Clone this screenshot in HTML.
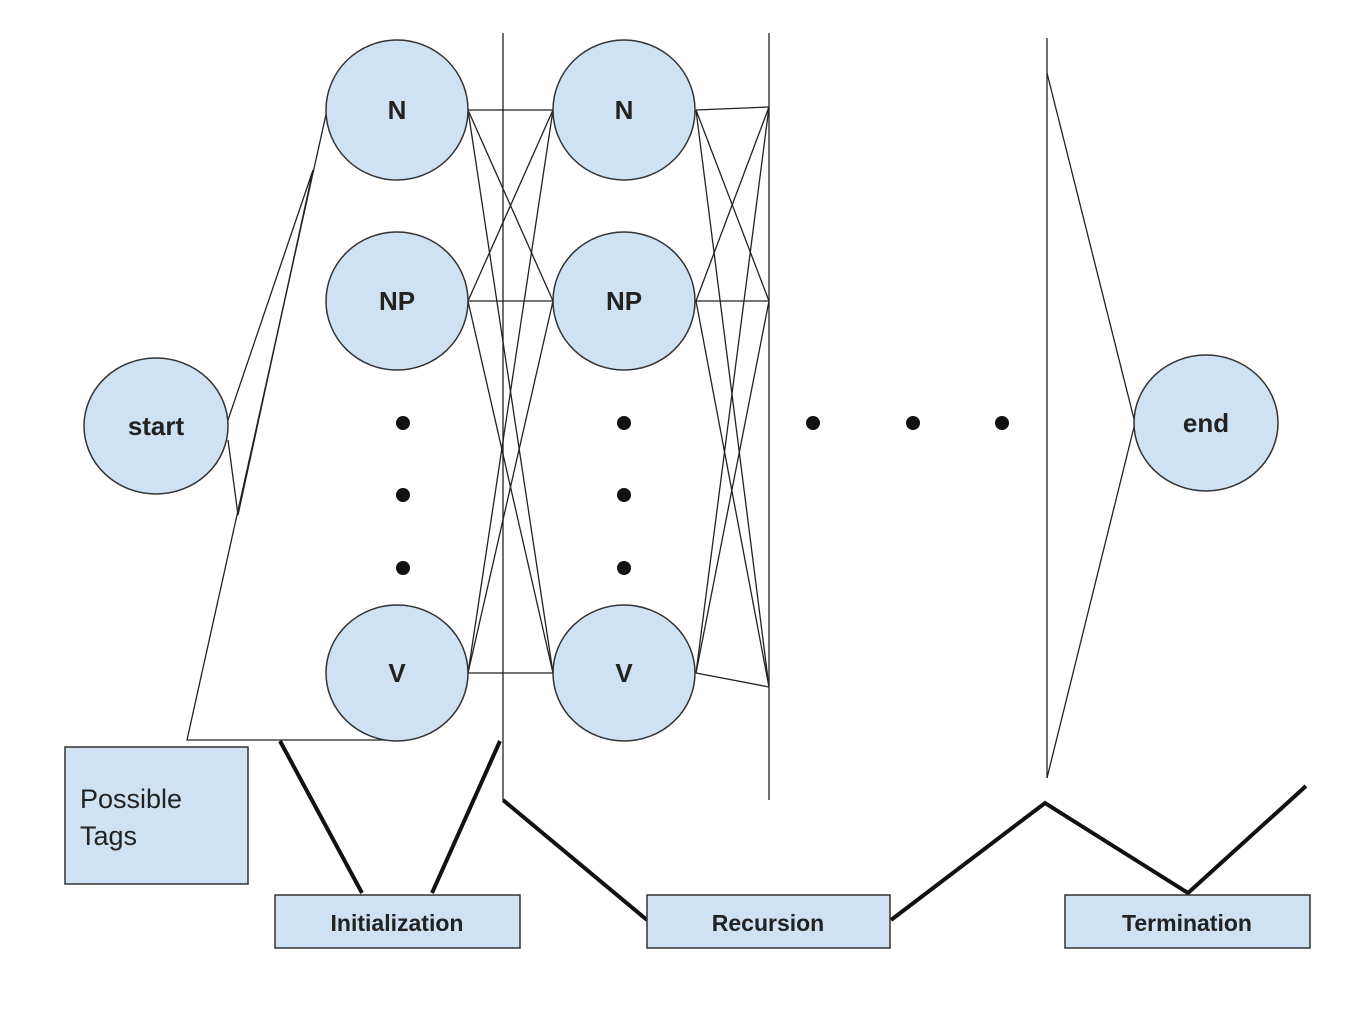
<!DOCTYPE html>
<html><head><meta charset="utf-8"><style>
html,body{margin:0;padding:0;background:#fff;width:1358px;height:1010px;overflow:hidden}
svg{display:block}
text{font-family:"Liberation Sans",sans-serif;fill:#222}
</style></head><body>
<svg width="1358" height="1010" viewBox="0 0 1358 1010">
<g stroke="#222" stroke-width="1.3" fill="none">
<line x1="503" y1="33" x2="503" y2="800"/>
<line x1="769" y1="33" x2="769" y2="800"/>
<line x1="1047" y1="38" x2="1047" y2="778"/>
<polyline points="327,110 187,740 393,740"/>
<polyline points="228,420 313,170 238,515 228,440"/>
<line x1="1047" y1="73" x2="1135" y2="423"/>
<line x1="1135" y1="423" x2="1047" y2="778"/>
<g id="c1"></g><g id="c2"></g>
</g>
<g id="nodes"></g>
<g fill="#111">
<circle cx="403" cy="423" r="7"/><circle cx="403" cy="495" r="7"/><circle cx="403" cy="568" r="7"/>
<circle cx="624" cy="423" r="7"/><circle cx="624" cy="495" r="7"/><circle cx="624" cy="568" r="7"/>
<circle cx="813" cy="423" r="7"/><circle cx="913" cy="423" r="7"/><circle cx="1002" cy="423" r="7"/>
</g>
<g stroke="#111" stroke-width="4" fill="none">
<line x1="280" y1="741" x2="362" y2="893"/>
<line x1="500" y1="741" x2="432" y2="893"/>
<polyline points="503,800 647,920"/>
<polyline points="891,920 1045,803 1188,893 1306,786"/>
</g>
<g>
<rect x="65" y="747" width="183" height="137" fill="#cfe2f3" stroke="#333" stroke-width="1.5"/>
<text x="80" y="808" font-size="27">Possible</text>
<text x="80" y="845" font-size="27">Tags</text>
</g>
<g>
<rect x="275" y="895" width="245" height="53" fill="#cfe2f3" stroke="#333" stroke-width="1.5"/>
<text x="397" y="931" font-size="23" font-weight="bold" text-anchor="middle">Initialization</text>
</g>
<g>
<rect x="647" y="895" width="243" height="53" fill="#cfe2f3" stroke="#333" stroke-width="1.5"/>
<text x="768" y="931" font-size="23" font-weight="bold" text-anchor="middle">Recursion</text>
</g>
<g>
<rect x="1065" y="895" width="245" height="53" fill="#cfe2f3" stroke="#333" stroke-width="1.5"/>
<text x="1187" y="931" font-size="23" font-weight="bold" text-anchor="middle">Termination</text>
</g>
</svg>
<script>
const NS="http://www.w3.org/2000/svg";
const rowY=[110,301,673];
const c1=document.getElementById('c1'),c2=document.getElementById('c2');
for(const a of rowY){for(const b of rowY){
 const l=document.createElementNS(NS,'line');
 l.setAttribute('x1',468);l.setAttribute('y1',a);l.setAttribute('x2',553);l.setAttribute('y2',b);
 
 
 c1.appendChild(l);
}}
const rightY=[107,301,687];
for(const a of rowY){for(const b of rightY){
 const l=document.createElementNS(NS,'line');
 l.setAttribute('x1',696);l.setAttribute('y1',a);l.setAttribute('x2',769);l.setAttribute('y2',b);
 
 
 c2.appendChild(l);
}}
const nodes=[["start",156,426,72,68],["N",397,110,71,70],["NP",397,301,71,69],["V",397,673,71,68],
["N",624,110,71,70],["NP",624,301,71,69],["V",624,673,71,68],["end",1206,423,72,68]];
const g=document.getElementById('nodes');
for(const [t,x,y,rx,ry] of nodes){
 const e=document.createElementNS(NS,'ellipse');
 e.setAttribute('cx',x);e.setAttribute('cy',y);e.setAttribute('rx',rx);e.setAttribute('ry',ry);
 e.setAttribute('fill','#cfe2f3');e.setAttribute('stroke','#333');e.setAttribute('stroke-width','1.5');
 
 
 g.appendChild(e);
 const s=document.createElementNS(NS,'text');
 s.setAttribute('x',x);s.setAttribute('y',y+9);s.setAttribute('text-anchor','middle');
 s.setAttribute('font-size','26');s.setAttribute('font-weight','bold');
 s.textContent=t;
 
 
 g.appendChild(s);
}
</script>
</body></html>
